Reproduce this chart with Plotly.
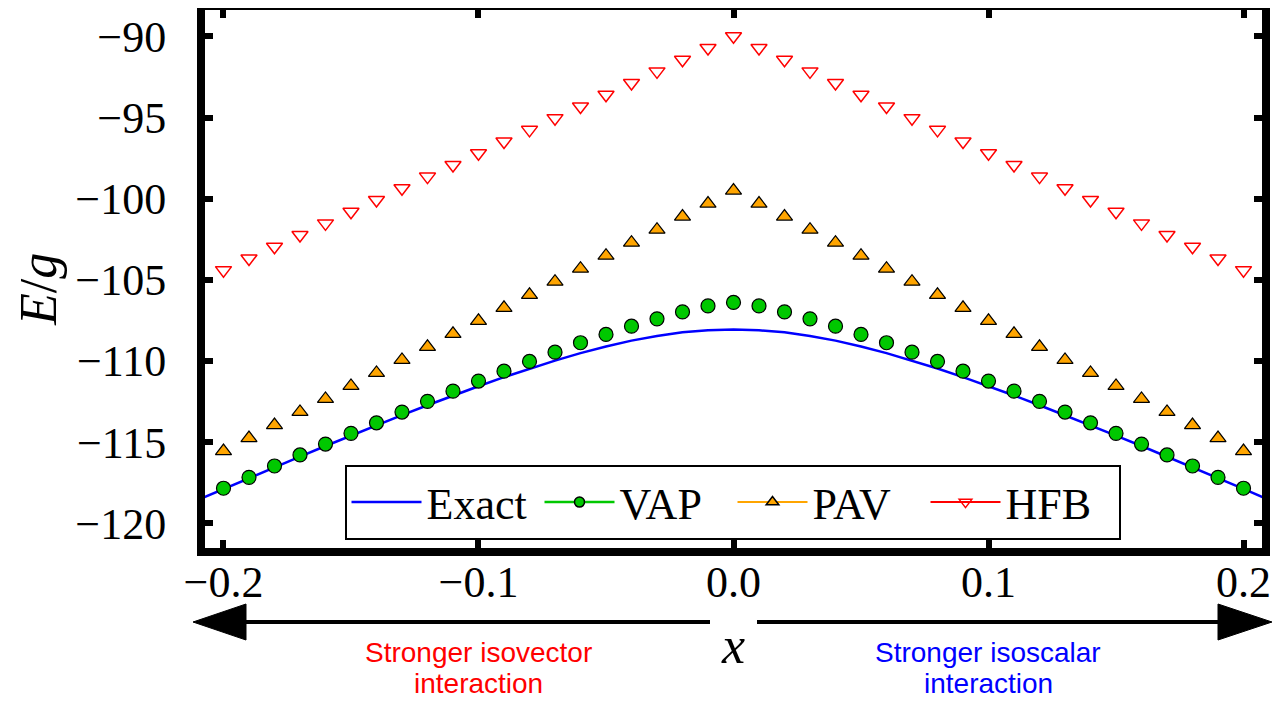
import plotly.graph_objects as go

# ---------------- data ----------------
x_pts = [-0.20, -0.19, -0.18, -0.17, -0.16, -0.15, -0.14, -0.13, -0.12, -0.11, -0.10,
         -0.09, -0.08, -0.07, -0.06, -0.05, -0.04, -0.03, -0.02, -0.01, 0.00,
         0.01, 0.02, 0.03, 0.04, 0.05, 0.06, 0.07, 0.08, 0.09, 0.10,
         0.11, 0.12, 0.13, 0.14, 0.15, 0.16, 0.17, 0.18, 0.19, 0.20]

vap = [-117.83, -117.16, -116.46, -115.78, -115.11, -114.45, -113.80, -113.14, -112.48, -111.85, -111.23,
       -110.62, -110.02, -109.45, -108.87, -108.36, -107.85, -107.40, -106.97, -106.60, -106.39,
       -106.60, -106.97, -107.40, -107.85, -108.36, -108.87, -109.45, -110.02, -110.62, -111.23,
       -111.85, -112.48, -113.14, -113.80, -114.45, -115.11, -115.78, -116.46, -117.16, -117.83]

pav = [-115.54, -114.74, -113.94, -113.13, -112.33, -111.53, -110.73, -109.93, -109.12, -108.32, -107.52,
       -106.72, -105.92, -105.11, -104.31, -103.51, -102.71, -101.91, -101.10, -100.30, -99.50,
       -100.30, -101.10, -101.91, -102.71, -103.51, -104.31, -105.11, -105.92, -106.72, -107.52,
       -108.32, -109.12, -109.93, -110.73, -111.53, -112.33, -113.13, -113.94, -114.74, -115.54]

hfb = [-104.40, -103.68, -102.96, -102.24, -101.52, -100.80, -100.08, -99.36, -98.64, -97.92, -97.20,
       -96.48, -95.76, -95.04, -94.32, -93.60, -92.88, -92.16, -91.44, -90.72, -90.00,
       -90.72, -91.44, -92.16, -92.88, -93.60, -94.32, -95.04, -95.76, -96.48, -97.20,
       -97.92, -98.64, -99.36, -100.08, -100.80, -101.52, -102.24, -102.96, -103.68, -104.40]

x_exact = [-0.21, -0.20, -0.19, -0.18, -0.17, -0.16, -0.15, -0.14, -0.13, -0.12, -0.11, -0.10,
           -0.09, -0.08, -0.07, -0.06, -0.05, -0.04, -0.03, -0.02, -0.01, 0.00,
           0.01, 0.02, 0.03, 0.04, 0.05, 0.06, 0.07, 0.08, 0.09, 0.10,
           0.11, 0.12, 0.13, 0.14, 0.15, 0.16, 0.17, 0.18, 0.19, 0.20, 0.21]
exact = [-118.55, -117.87, -117.20, -116.54, -115.88, -115.23, -114.59, -113.95, -113.33, -112.72, -112.12, -111.55,
         -110.99, -110.46, -109.97, -109.51, -109.10, -108.74, -108.45, -108.23, -108.10, -108.05,
         -108.10, -108.23, -108.45, -108.74, -109.10, -109.51, -109.97, -110.46, -110.99, -111.55,
         -112.12, -112.72, -113.33, -113.95, -114.59, -115.23, -115.88, -116.54, -117.20, -117.87, -118.55]

x_ticks = [-0.2, -0.1, 0.0, 0.1, 0.2]
y_ticks = [-120, -115, -110, -105, -100, -95, -90]

names = ["Exact", "VAP", "PAV", "HFB"]

# ---------------- layout helpers ----------------
# the page body adds an 8 px offset; figure coordinates = page coordinates - 8
OFF = 8
W, H = 1285 - OFF, 702 - OFF
L, R, T, B = 205 - OFF, 1262 - OFF, 10 - OFF, 548 - OFF


def px(x):
    """page pixel x -> paper fraction"""
    return (x - OFF - L) / (R - L)


def py(y):
    """page pixel y -> paper fraction"""
    return (B - (y - OFF)) / (B - T)


BLUE = "#0000ff"
GREEN = "#00c800"
ORANGE = "#ffa500"
RED = "#ff0000"

fig = go.Figure()

# data traces
fig.add_trace(go.Scatter(x=x_exact, y=exact, mode="lines", line=dict(color=BLUE, width=2.5),
                         showlegend=False, hoverinfo="skip"))
fig.add_trace(go.Scatter(x=x_pts, y=vap, mode="markers",
                         marker=dict(symbol="circle", size=14, color=GREEN, line=dict(color="black", width=1.2)),
                         showlegend=False))
fig.add_trace(go.Scatter(x=x_pts, y=pav, mode="markers",
                         marker=dict(symbol="triangle-up", size=14, color=ORANGE, line=dict(color="black", width=1.2)),
                         showlegend=False))
fig.add_trace(go.Scatter(x=x_pts, y=hfb, mode="markers",
                         marker=dict(symbol="triangle-down-open", size=14, color=RED, line=dict(color=RED, width=1.5)),
                         showlegend=False))

# legend entries
fig.add_trace(go.Scatter(x=[None], y=[None], mode="lines", name=names[0], line=dict(color=BLUE, width=2.5)))
fig.add_trace(go.Scatter(x=[None], y=[None], mode="lines+markers", name=names[1], line=dict(color=GREEN, width=2.5),
                         marker=dict(symbol="circle", size=10, color=GREEN, line=dict(color="black", width=1.5))))
fig.add_trace(go.Scatter(x=[None], y=[None], mode="lines+markers", name=names[2], line=dict(color=ORANGE, width=2),
                         marker=dict(symbol="triangle-up", size=11, color=ORANGE, line=dict(color="black", width=1.5))))
fig.add_trace(go.Scatter(x=[None], y=[None], mode="lines+markers", name=names[3], line=dict(color=RED, width=2),
                         marker=dict(symbol="triangle-down-open", size=11, color=RED, line=dict(color=RED, width=1.5))))

serif = "Liberation Serif"

axis_common = dict(
    showgrid=False, zeroline=False, showline=True, linecolor="black", linewidth=8,
    mirror="ticks", ticks="inside", ticklen=8, tickwidth=6, tickcolor="black",
    tickfont=dict(family=serif, size=44, color="black"), automargin=False,
)

fig.update_xaxes(range=[-0.20725, 0.20725], tickvals=x_ticks, tickformat=".1f", ticklabelstandoff=-12,
                 **axis_common)
fig.update_yaxes(range=[-121.51, -88.38], tickvals=y_ticks, tickformat="d", ticklabelstandoff=22, **axis_common)

annotations = [
    dict(text="<i>E</i>/<i>g</i>", x=px(38), y=py(290), xref="paper", yref="paper", showarrow=False,
         textangle=-90, font=dict(family=serif, size=52, color="black"), xanchor="center", yanchor="middle"),
    dict(text="<i>x</i>", x=px(733), y=py(645), xref="paper", yref="paper", showarrow=False,
         font=dict(family=serif, size=52, color="black"), xanchor="center", yanchor="middle"),
    dict(text="Stronger isovector", x=px(478.5), y=py(652), xref="paper", yref="paper", showarrow=False,
         font=dict(family="Liberation Sans", size=28, color=RED), xanchor="center", yanchor="middle"),
    dict(text="interaction", x=px(478.5), y=py(683), xref="paper", yref="paper", showarrow=False,
         font=dict(family="Liberation Sans", size=28, color=RED), xanchor="center", yanchor="middle"),
    dict(text="Stronger isoscalar", x=px(988), y=py(652), xref="paper", yref="paper", showarrow=False,
         font=dict(family="Liberation Sans", size=28, color=BLUE), xanchor="center", yanchor="middle"),
    dict(text="interaction", x=px(988), y=py(683), xref="paper", yref="paper", showarrow=False,
         font=dict(family="Liberation Sans", size=28, color=BLUE), xanchor="center", yanchor="middle"),
]

ay = 622
shapes = [
    dict(type="line", xref="paper", yref="paper", x0=px(240), x1=px(710), y0=py(ay), y1=py(ay),
         line=dict(color="black", width=4)),
    dict(type="path", xref="paper", yref="paper",
         path=f"M {px(193)} {py(ay)} L {px(246)} {py(ay-18)} L {px(246)} {py(ay+18)} Z",
         fillcolor="black", line=dict(color="black", width=1)),
    dict(type="line", xref="paper", yref="paper", x0=px(757), x1=px(1222), y0=py(ay), y1=py(ay),
         line=dict(color="black", width=4)),
    dict(type="path", xref="paper", yref="paper",
         path=f"M {px(1272)} {py(ay)} L {px(1218)} {py(ay-18)} L {px(1218)} {py(ay+18)} Z",
         fillcolor="black", line=dict(color="black", width=1)),
]

fig.update_layout(
    width=W, height=H,
    margin=dict(l=L, r=W - R, t=T, b=H - B, autoexpand=False),
    paper_bgcolor="white", plot_bgcolor="white",
    showlegend=True,
    legend=dict(orientation="h", x=px(732.5), y=py(502.5), xanchor="center", yanchor="middle",
                bgcolor="white", bordercolor="black", borderwidth=2,
                font=dict(family=serif, size=44, color="black"), itemwidth=70,
                entrywidth=108, entrywidthmode="pixels",
                tracegroupgap=0),
    annotations=annotations,
    shapes=shapes,
)

fig.write_html("out.html")
